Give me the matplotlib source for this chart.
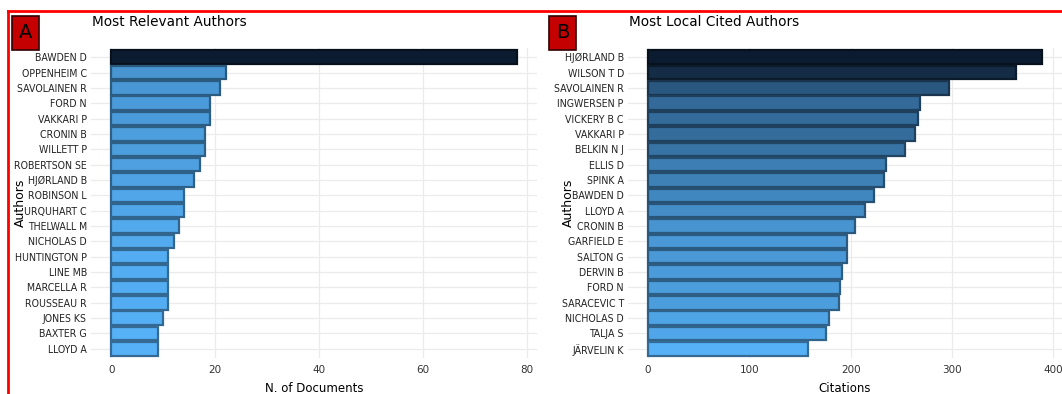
import numpy as np
import matplotlib.pyplot as plt
from matplotlib.colors import LinearSegmentedColormap, Normalize
from matplotlib.patches import Rectangle
from matplotlib.lines import Line2D

# panel A data
rel_authors = ["BAWDEN D", "OPPENHEIM C", "SAVOLAINEN R", "FORD N", "VAKKARI P",
               "CRONIN B", "WILLETT P", "ROBERTSON SE", "HJØRLAND B", "ROBINSON L",
               "URQUHART C", "THELWALL M", "NICHOLAS D", "HUNTINGTON P", "LINE MB",
               "MARCELLA R", "ROUSSEAU R", "JONES KS", "BAXTER G", "LLOYD A"]
rel_docs = [78, 22, 21, 19, 19, 18, 18, 17, 16, 14, 14, 13, 12, 11, 11, 11, 11, 10, 9, 9]

# panel B data
cit_authors = ["HJØRLAND B", "WILSON T D", "SAVOLAINEN R", "INGWERSEN P", "VICKERY B C",
               "VAKKARI P", "BELKIN N J", "ELLIS D", "SPINK A", "BAWDEN D",
               "LLOYD A", "CRONIN B", "GARFIELD E", "SALTON G", "DERVIN B",
               "FORD N", "SARACEVIC T", "NICHOLAS D", "TALJA S", "JÄRVELIN K"]
cit_counts = [389, 363, 297, 268, 266, 264, 254, 235, 233, 223,
              214, 204, 196, 196, 192, 190, 189, 179, 176, 158]

W, H = 1062, 394
fig = plt.figure(figsize=(W / 100, H / 100), dpi=100)

cmap = LinearSegmentedColormap.from_list("blues", ["#56B1F7", "#0c1c30"])


def draw_panel(ax, names, vals, step, title, xlabel, letter, box_x):
    vals = np.array(vals)
    norm = Normalize(vals.min(), vals.max())
    cols = cmap(norm(vals))
    edges = cols.copy()
    edges[:, :3] = edges[:, :3] * 0.6
    y = np.arange(len(names))
    ax.barh(y, vals, height=0.88, color=cols, edgecolor=edges, linewidth=1.6, zorder=3)
    ax.set_ylim(len(names) - 0.4, -0.6)
    top = vals.max()
    ax.set_xlim(-0.05 * top, 1.05 * top)
    ax.set_xticks(np.arange(0, top + step, step))
    ax.set_yticks(y)
    ax.set_yticklabels(names, family="DejaVu Sans", stretch="condensed",
                       fontsize=7.6, color="#222222")
    ax.tick_params(axis="x", labelsize=7.5, colors="#333333", pad=5)
    ax.tick_params(length=0)
    ax.tick_params(axis="y", pad=3)
    ax.grid(True, color="#ebebeb", linewidth=0.9)
    ax.set_axisbelow(True)
    for s in ax.spines.values():
        s.set_visible(False)

    pos = ax.get_position()
    fig.text(pos.x0 + 1 / W, 1 - 15 / H, title, fontsize=9.8, va="top", ha="left")
    fig.text((pos.x0 + pos.x1) / 2, 1 - 388 / H, xlabel, fontsize=8.5, ha="center", va="center")

    # letter tag
    fig.add_artist(Rectangle((box_x, 1 - 50 / H), 27 / W, 34 / H, transform=fig.transFigure,
                             facecolor="#c40000", edgecolor="#300000", linewidth=1.2))
    fig.text(box_x + 13.5 / W, 1 - 33 / H, letter, fontsize=14, ha="center", va="center",
             color="black")


ax1 = fig.add_axes([91 / W, 1 - 358 / H, (537 - 91) / W, (358 - 48) / H])
draw_panel(ax1, rel_authors, rel_docs, 20, "Most Relevant Authors", "N. of Documents", "A", 12 / W)
fig.text(20 / W, 1 - 203 / H, "Authors", rotation=90, fontsize=9, ha="center", va="center")

ax2 = fig.add_axes([628 / W, 1 - 358 / H, (1062 - 628) / W, (358 - 48) / H])
draw_panel(ax2, cit_authors, cit_counts, 100, "Most Local Cited Authors", "Citations", "B", 549 / W)
fig.text(568 / W, 1 - 203 / H, "Authors", rotation=90, fontsize=9, ha="center", va="center")

# red frame
fig.add_artist(Line2D([8 / W, 8 / W], [0, 1 - 11 / H], color="red", linewidth=2))
fig.add_artist(Line2D([8 / W, 1], [1 - 11 / H, 1 - 11 / H], color="red", linewidth=2))

fig.savefig("out.png", dpi=100)
